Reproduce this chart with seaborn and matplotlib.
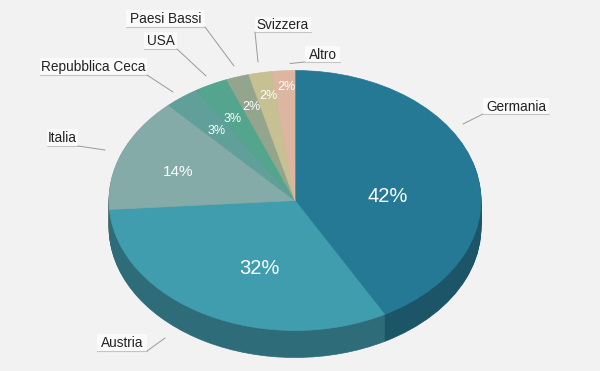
import matplotlib
matplotlib.use("Agg")
import matplotlib.pyplot as plt
import matplotlib.transforms as mtrans
import seaborn as sns

countries = ["Germania", "Austria", "Italia", "Repubblica Ceca", "USA", "Paesi Bassi", "Svizzera", "Altro"]
values = [42, 31.9, 14.2, 3, 2.9, 2, 2, 2]
pct_labels = ["42%", "32%", "14%", "3%", "3%", "2%", "2%", "2%"]

top_colors = ["#257995", "#3F9DAE", "#85ABA9", "#61A09A", "#54A58E", "#93A58D", "#C7C093", "#DCB6A0"]
side_colors = ["#1B5567", "#2D6C78", "#5D7876", "#44706C", "#3B7463", "#677463", "#8B8667", "#9A7F70"]

BG = "#F2F2F2"
sns.set_theme(style="white", rc={"figure.facecolor": BG, "axes.facecolor": BG})
plt.rcParams["font.family"] = ["Liberation Sans", "DejaVu Sans"]

W, H = 600, 371
fig = plt.figure(figsize=(W / 100, H / 100), dpi=100, facecolor=BG)
ax = fig.add_axes([0, 0, 1, 1])

# pixel geometry of the ellipse
cx, cy, rx, ry, depth = 295, 200.5, 186, 130, 27

def draw(colors, off):
    wedges, _ = ax.pie(values, colors=sns.color_palette(colors), startangle=90, counterclock=False,
                       radius=1, center=(0, -off / ry))
    for w in wedges:
        w.set_edgecolor(w.get_facecolor())
        w.set_linewidth(0.5)

for d in range(depth, 0, -1):
    draw(side_colors, d)
draw(top_colors, 0)
ax.set_aspect("auto")
ax.set_xlim(-cx / rx, (W - cx) / rx)
ax.set_ylim((cy - H) / ry, cy / ry)
ax.axis("off")

px = mtrans.Affine2D().scale(1, -1).translate(0, H)

pct_pos = [(388, 197), (259, 268.5), (178, 172), (217, 131.5), (233, 119), (251, 107.5), (268.5, 96), (286, 87)]
pct_size = [14.5, 14.5, 11, 9, 9, 9, 9, 9]
for s, (x, y), fs in zip(pct_labels, pct_pos, pct_size):
    ax.text(x, y, s, transform=px, color="white", fontsize=fs, ha="center", va="center", zorder=5)

# label box (x0, x1, y0, y1), leader end
boxes = [(483, 549, 98, 114), (97, 147, 334, 351), (47, 78, 129, 146), (40, 147, 58, 75),
         (144, 177, 32, 49), (126, 205, 10, 27), (255, 311, 17, 32), (305, 340, 46, 62)]
anchors = [(483, 114), (147, 351), (78, 146), (147, 75), (177, 49), (205, 27), (255, 32), (305, 62)]
ends = [(463, 124), (165, 338), (105, 150), (173, 92), (206, 76), (234, 66), (258, 62), (290, 63.5)]
for name, (x0, x1, y0, y1), a, e in zip(countries, boxes, anchors, ends):
    ax.fill([x0, x1, x1, x0], [y0, y0, y1, y1], transform=px, color="#FAFAFA", lw=0, zorder=4)
    ax.plot([x0, x1], [y1, y1], transform=px, color="#C4C4C4", lw=0.8, zorder=5)
    ax.plot([a[0], e[0]], [a[1], e[1]], transform=px, color="#9A9A9A", lw=0.7, zorder=5)
    ax.text((x0 + x1) / 2, (y0 + y1) / 2 + 0.6, name, transform=px, color="#222222", fontsize=9.8,
            ha="center", va="center", zorder=6)

fig.savefig("out.png", dpi=100, facecolor=BG)
